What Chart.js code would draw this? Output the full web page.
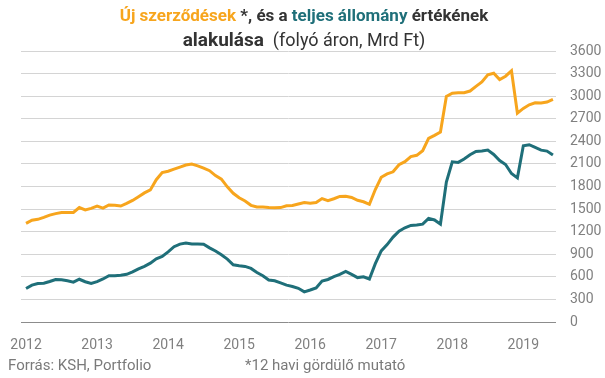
<!DOCTYPE html>
<html>
<head>
<meta charset="utf-8">
<script src="https://cdn.jsdelivr.net/npm/chart.js@4"></script>
<style>
html,body{margin:0;padding:0;background:#fff;}
#wrap{width:605px;height:378px;position:relative;}
</style>
</head>
<body>
<div id="wrap"><canvas id="c" width="605" height="378"></canvas></div>
<script>
// Monthly data, 2012-01 .. 2019-06 (Mrd Ft, 12-month rolling)
const newContracts = [
1310,1352,1364,1390,1420,1440,1453,1455,1456,1520,1490,1510,
1540,1512,1555,1550,1540,1575,1615,1665,1715,1755,1890,1985,
2003,2030,2058,2085,2098,2075,2045,2010,1945,1897,1795,1710,
1650,1607,1550,1527,1527,1520,1518,1520,1545,1548,1568,1587,
1578,1588,1640,1613,1637,1668,1670,1655,1617,1597,1563,1760,
1923,1967,1995,2090,2130,2197,2214,2275,2440,2480,2523,2995,
3038,3045,3045,3068,3130,3190,3285,3305,3220,3265,3337,2775,
2838,2885,2912,2910,2922,2957];
const totalStock = [
445,490,510,516,538,565,560,548,530,568,535,512,
537,572,615,614,620,633,665,705,740,782,840,870,
932,1000,1035,1050,1036,1036,1034,985,943,892,835,760,
748,738,712,658,615,557,548,520,490,472,448,400,
425,453,545,565,603,632,672,632,590,600,571,775,
945,1028,1128,1205,1251,1283,1288,1300,1376,1356,1300,1860,
2128,2120,2166,2222,2266,2271,2283,2226,2145,2092,1972,1915,
2340,2355,2320,2283,2270,2218];
const yearLabels = ['2012','2013','2014','2015','2016','2017','2018','2019'];
const yTicks = [0,300,600,900,1200,1500,1800,2100,2400,2700,3000,3300,3600];

const ORANGE = '#F7A51D';
const TEAL = '#1F6F79';
const DARK = '#333333';
const FONT = 'Roboto, "Liberation Sans", sans-serif';

const toPts = arr => arr.map((v, i) => ({x: i, y: v}));

const titlePlugin = {
  id: 'customTitle',
  afterDraw(chart) {
    const ctx = chart.ctx;
    const lines = [
      {y: 17, segs: [
        {t: 'Új szerződések', c: ORANGE, f: 'bold 17px'},
        {t: ' *, és a ', c: DARK, f: 'bold 17px'},
        {t: 'teljes állomány', c: TEAL, f: 'bold 17px'},
        {t: ' értékének', c: DARK, f: 'bold 17px'}]},
      {y: 41, segs: [
        {t: 'alakulása', c: DARK, f: 'bold 19px'},
        {t: '  (folyó áron, Mrd Ft)', c: DARK, f: 'normal 18px'}]}
    ];
    ctx.save();
    ctx.textBaseline = 'middle';
    ctx.textAlign = 'left';
    lines.forEach(line => {
      let total = 0;
      line.segs.forEach(s => { ctx.font = s.f + ' ' + FONT; s.width = ctx.measureText(s.t).width; total += s.width; });
      let x = 304 - total / 2;
      line.segs.forEach(s => { ctx.font = s.f + ' ' + FONT; ctx.fillStyle = s.c; ctx.fillText(s.t, x, line.y); x += s.width; });
    });
    ctx.font = '15px ' + FONT;
    ctx.fillStyle = '#7a7a7a';
    ctx.fillText('Forrás: KSH, Portfolio', 8, 366);
    ctx.fillText('*12 havi gördülő mutató', 245, 366);
    ctx.restore();
  }
};

new Chart(document.getElementById('c'), {
  type: 'line',
  data: {
    datasets: [
      {label: 'Új szerződések', data: toPts(newContracts), borderColor: ORANGE, borderWidth: 3, pointRadius: 0, tension: 0, fill: false},
      {label: 'Teljes állomány', data: toPts(totalStock), borderColor: TEAL, borderWidth: 3, pointRadius: 0, tension: 0, fill: false}
    ]
  },
  options: {
    responsive: false,
    animation: false,
    devicePixelRatio: 1,
    layout: {padding: {top: 51, left: 21, right: 0, bottom: 0}},
    plugins: {legend: {display: false}, tooltip: {enabled: false}, title: {display: false}},
    scales: {
      x: {
        type: 'linear',
        min: -0.85, max: 89.52,
        grid: {display: false},
        border: {display: false},
        afterFit: s => { s.height = 56; },
        afterBuildTicks: s => { s.ticks = yearLabels.map((_, k) => ({value: k * 12})); },
        ticks: {
          padding: 7,
          color: '#808080',
          font: {family: FONT, size: 14},
          maxRotation: 0,
          autoSkip: false,
          callback: v => yearLabels[Math.round(v / 12)]
        }
      },
      y: {
        position: 'right',
        min: 0, max: 3600,
        afterFit: s => { s.width = 49; },
        afterBuildTicks: s => { s.ticks = yTicks.map(v => ({value: v})); },
        grid: {drawTicks: false, color: ctx => ctx.tick && ctx.tick.value === 0 ? '#8c8c8c' : '#d4d4d4', lineWidth: 1},
        border: {display: false},
        ticks: {padding: 14, color: '#808080', font: {family: FONT, size: 14}, callback: v => String(v)}
      }
    }
  },
  plugins: [titlePlugin]
});
</script>
</body>
</html>
